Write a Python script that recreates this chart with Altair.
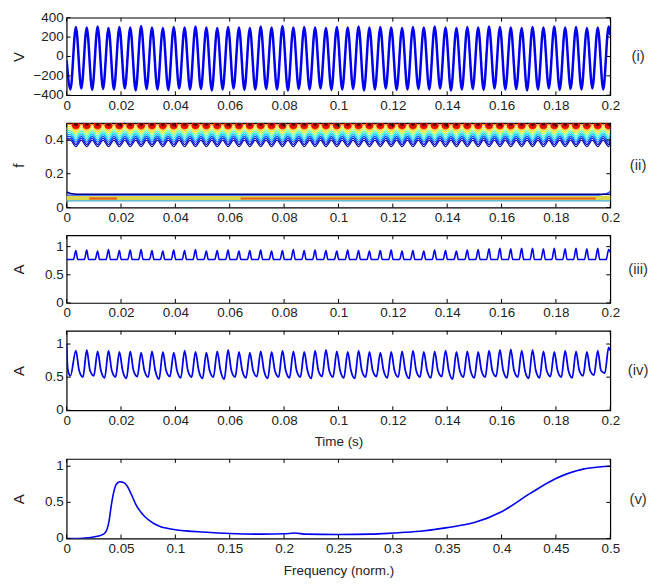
import altair as alt
import pandas as pd

# ---------------- data ----------------
# times of the once-per-cycle events (s), shared by the time panels
cycle_t = [0.0034, 0.0074, 0.0114, 0.0154, 0.0194, 0.0234, 0.0274, 0.0314, 0.0354, 0.0394,
           0.0434, 0.0474, 0.0514, 0.0554, 0.0594, 0.0634, 0.0674, 0.0714, 0.0754, 0.0794,
           0.0834, 0.0874, 0.0914, 0.0954, 0.0994, 0.1034, 0.1074, 0.1114, 0.1154, 0.1194,
           0.1234, 0.1274, 0.1314, 0.1354, 0.1394, 0.1434, 0.1474, 0.1514, 0.1554, 0.1594,
           0.1634, 0.1674, 0.1714, 0.1754, 0.1794, 0.1834, 0.1874, 0.1914, 0.1954, 0.1994]
half_period = 0.002

# (i) voltage
v_start = -40
v_end = 220
v_peak = [305, 300, 310, 295, 305, 300, 315, 300, 295, 305,
          300, 310, 300, 295, 305, 300, 295, 310, 300, 315,
          300, 305, 300, 295, 305, 300, 310, 300, 305, 300,
          295, 305, 300, 310, 300, 295, 305, 300, 310, 305,
          300, 295, 305, 300, 310, 300, 305, 295, 300, 310]
v_trough = [-340, -330, -345, -335, -340, -330, -350, -335, -340, -345,
            -330, -340, -335, -350, -340, -330, -345, -340, -335, -340,
            -350, -335, -340, -330, -345, -340, -335, -350, -340, -330,
            -345, -340, -335, -340, -330, -350, -340, -335, -345, -330,
            -340, -335, -350, -340, -330, -345, -335, -340, -330, -340]

# (ii) time-frequency contour levels
contour_crest = [0.398, 0.41, 0.421, 0.432, 0.443, 0.454, 0.466, 0.478, 0.492]
contour_dip = [0.360, 0.373, 0.386, 0.398, 0.41, 0.422, 0.434, 0.446, 0.458]
blob_red_f = 0.487
blob_dark_f = 0.495
low_navy_t = [0.0, 0.0015, 0.004, 0.2]
low_navy_f = [0.092, 0.083, 0.079, 0.079]
low_blue_t = [0.0, 0.194, 0.197, 0.199, 0.2]
low_blue_f = [0.073, 0.073, 0.077, 0.085, 0.095]
low_cyan_t = [0.0, 0.2]
low_cyan_f = [0.039, 0.039]
band_t = [0.0]
band_t2 = [0.2]
band_lo = [0.040]
band_hi = [0.070]
orange_t = [0.0083, 0.064]
orange_t2 = [0.0185, 0.1946]
orange_lo = [0.047, 0.047]
orange_hi = [0.060, 0.060]

# (iii) amplitude
iii_base = 0.77
iii_end = 0.9
iii_peak = [0.93, 0.94, 0.92, 0.95, 0.93, 0.94, 0.95, 0.93, 0.92, 0.94,
            0.93, 0.95, 0.92, 0.93, 0.94, 0.92, 0.93, 0.94, 0.92, 0.93,
            0.95, 0.93, 0.94, 0.93, 0.92, 0.94, 0.93, 0.92, 0.93, 0.94,
            0.92, 0.93, 0.92, 0.94, 0.93, 0.92, 0.94, 0.95, 0.96, 0.97,
            0.96, 0.97, 0.97, 0.96, 0.97, 0.96, 0.97, 0.96, 0.97, 0.95]

# (iv) amplitude
iv_start_t = [0.0, 0.0004, 0.0014]
iv_start_v = [1.0, 0.62, 0.52]
iv_shoulder = 0.6
iv_end = 0.9
iv_peak = [0.90, 0.91, 0.89, 0.90, 0.88, 0.89, 0.87, 0.89, 0.88, 0.87,
           0.90, 0.88, 0.87, 0.89, 0.91, 0.88, 0.87, 0.89, 0.88, 0.90,
           0.89, 0.88, 0.90, 0.91, 0.89, 0.88, 0.90, 0.88, 0.87, 0.88,
           0.89, 0.90, 0.88, 0.89, 0.90, 0.88, 0.89, 0.88, 0.90, 0.91,
           0.92, 0.90, 0.91, 0.89, 0.88, 0.90, 0.89, 0.88, 0.90, 0.95]
iv_trough = [0.50, 0.52, 0.49, 0.50, 0.48, 0.51, 0.50, 0.47, 0.51, 0.49,
             0.50, 0.48, 0.50, 0.47, 0.50, 0.49, 0.51, 0.48, 0.50, 0.49,
             0.50, 0.48, 0.51, 0.50, 0.49, 0.48, 0.50, 0.51, 0.49, 0.50,
             0.48, 0.50, 0.49, 0.51, 0.47, 0.50, 0.49, 0.50, 0.51, 0.49,
             0.50, 0.48, 0.49, 0.51, 0.50, 0.49, 0.52, 0.53, 0.56]

# (v) spectrum
freq = [0, 0.01, 0.02, 0.028, 0.034, 0.037, 0.039, 0.041, 0.043, 0.045,
        0.047, 0.049, 0.051, 0.053, 0.055, 0.058, 0.061, 0.064, 0.068, 0.072,
        0.077, 0.081, 0.087, 0.093, 0.1, 0.11, 0.125, 0.15, 0.18, 0.2,
        0.21, 0.22, 0.25, 0.28, 0.3, 0.325, 0.35, 0.375, 0.4, 0.426,
        0.45, 0.475, 0.49, 0.5]
spec = [0.0, 0.0, 0.01, 0.03, 0.06, 0.12, 0.24, 0.45, 0.62, 0.73,
        0.77, 0.785, 0.78, 0.77, 0.74, 0.66, 0.56, 0.46, 0.37, 0.30,
        0.24, 0.20, 0.16, 0.14, 0.12, 0.105, 0.09, 0.07, 0.06, 0.065,
        0.075, 0.06, 0.055, 0.06, 0.075, 0.10, 0.15, 0.22, 0.37, 0.62,
        0.83, 0.96, 0.99, 1.0]

# axis ticks / labels
time_ticks = [0, 0.02, 0.04, 0.06, 0.08, 0.1, 0.12, 0.14, 0.16, 0.18, 0.2]
freq_ticks = [0, 0.05, 0.1, 0.15, 0.2, 0.25, 0.3, 0.35, 0.4, 0.45, 0.5]
v_ticks = [-400, -200, 0, 200, 400]
v_labels = ["\u2212400", "\u2212200", "0", "200", "400"]
f_ticks = [0, 0.2, 0.4]
f_labels = ["0", "0.2", "0.4"]
a_ticks = [0, 0.5, 1]
a_labels = ["0", "0.5", "1"]

# ---------------- styling ----------------
W = 547
FONT = "Liberation Sans"
FS = 13.5
BLUE = "#0000EE"
LABEL_EXPR = "format(datum.value, '~g')"
contour_colors = ["#00008F", "#0000FF", "#0050FF", "#00A0FF", "#00E0FF",
                  "#50FFAF", "#AFFF50", "#FFE000", "#FF9000"]


def make_panel(layers, h, xfield, xdom, xticks, ydom, yticks, ylabels, ytitle, tag,
               xtitle=None, xtitle_pad=10):
    xs = alt.Scale(domain=xdom, nice=False, zero=False)
    ys = alt.Scale(domain=ydom, nice=False, zero=False)
    xkw = dict(values=xticks, labelExpr=LABEL_EXPR, labelFlush=False, labelOverlap=False)
    if xtitle:
        xkw.update(title=xtitle, titlePadding=xtitle_pad)
    else:
        xkw.update(title=None)
    yaxis = alt.Axis(values=yticks, labels=False, title=ytitle, titleX=-48, titleY=h / 2,
                     titleBaseline="middle", titleAlign="center", titleFontSize=15)
    carrier = alt.Chart(pd.DataFrame({xfield: xdom, "val": ydom})).mark_line(
        strokeOpacity=0).encode(
        x=alt.X(f"{xfield}:Q", scale=xs, axis=alt.Axis(**xkw)),
        y=alt.Y("val:Q", scale=ys, axis=yaxis),
    )
    xt = pd.DataFrame({xfield: xticks})
    yt = pd.DataFrame({"val": yticks, "lab": ylabels})
    rk = dict(color="black", strokeWidth=1)
    tk = [
        alt.Chart(xt).mark_rule(**rk).encode(x=f"{xfield}:Q", y=alt.value(h), y2=alt.value(h - 4)),
        alt.Chart(xt).mark_rule(**rk).encode(x=f"{xfield}:Q", y=alt.value(0), y2=alt.value(4)),
        alt.Chart(yt).mark_rule(**rk).encode(y="val:Q", x=alt.value(0), x2=alt.value(4)),
        alt.Chart(yt).mark_rule(**rk).encode(y="val:Q", x=alt.value(W - 4), x2=alt.value(W)),
        alt.Chart(yt).mark_text(font=FONT, fontSize=FS, color="#222", align="right",
                                baseline="middle").encode(
            y="val:Q", x=alt.value(-3), text="lab:N"),
    ]
    lab = alt.Chart(pd.DataFrame({"lab": [tag]})).mark_text(
        font=FONT, fontSize=15, color="#333", align="center", baseline="middle"
    ).encode(x=alt.value(W + 28), y=alt.value(h / 2), text="lab:N")
    return alt.layer(carrier, *layers, *tk, lab).properties(width=W, height=h)


# ---------- panel (i) ----------
t1, y1 = [0.0], [v_start]
for k, tc in enumerate(cycle_t):
    t1 += [tc - half_period, tc]
    y1 += [v_trough[k], v_peak[k]]
t1.append(0.2)
y1.append(v_end)
df1 = pd.DataFrame({"t": t1, "val": y1})
line1 = alt.Chart(df1).mark_line(color=BLUE, strokeWidth=2.5, interpolate="monotone", clip=True).encode(
    x="t:Q", y="val:Q")
p1 = make_panel([line1], 78, "t", [0, 0.2], time_ticks, [-400, 400], v_ticks, v_labels, "V", "(i)")

# ---------- panel (ii) ----------
rows = []
for j, (cr, dp) in enumerate(zip(contour_crest, contour_dip)):
    rows.append((0.0, cr, j))
    for tc in cycle_t:
        rows.append((tc - half_period, cr, j))
        rows.append((tc, dp, j))
    rows.append((0.2, cr, j))
dfc = pd.DataFrame(rows, columns=["t", "val", "lev"])
contours = alt.Chart(dfc).mark_line(strokeWidth=1.1, interpolate="monotone", clip=True).encode(
    x="t:Q", y="val:Q",
    color=alt.Color("lev:N", scale=alt.Scale(domain=list(range(len(contour_crest))),
                                             range=contour_colors), legend=None),
)
blob_red = alt.Chart(pd.DataFrame({"t": cycle_t, "val": [blob_red_f] * len(cycle_t)})).mark_point(
    filled=True, shape="circle", size=60, color="#E81000", opacity=1, clip=True).encode(x="t:Q", y="val:Q")
blob_dark = alt.Chart(pd.DataFrame({"t": cycle_t, "val": [blob_dark_f] * len(cycle_t)})).mark_point(
    filled=True, shape="circle", size=18, color="#5A0000", opacity=1, clip=True).encode(x="t:Q", y="val:Q")
band = alt.Chart(pd.DataFrame({"t": band_t, "t2": band_t2, "val": band_lo, "val2": band_hi})).mark_rect(
    color="#DCD64C").encode(x="t:Q", x2="t2", y="val:Q", y2="val2")
orange = alt.Chart(pd.DataFrame({"t": orange_t, "t2": orange_t2,
                                 "val": orange_lo, "val2": orange_hi})).mark_rect(
    color="#E8601C").encode(x="t:Q", x2="t2", y="val:Q", y2="val2")
navy = alt.Chart(pd.DataFrame({"t": low_navy_t, "val": low_navy_f})).mark_line(
    color="#00008F", strokeWidth=1.5, interpolate="monotone", clip=True).encode(x="t:Q", y="val:Q")
blue_l = alt.Chart(pd.DataFrame({"t": low_blue_t, "val": low_blue_f})).mark_line(
    color="#2050FF", strokeWidth=1.3, interpolate="monotone", clip=True).encode(x="t:Q", y="val:Q")
cyan_l = alt.Chart(pd.DataFrame({"t": low_cyan_t, "val": low_cyan_f})).mark_line(
    color="#40B0E0", strokeWidth=1.2, clip=True).encode(x="t:Q", y="val:Q")
p2 = make_panel([band, orange, cyan_l, blue_l, navy, contours, blob_red, blob_dark],
                85, "t", [0, 0.2], time_ticks, [0, 0.5], f_ticks, f_labels, "f", "(ii)")

# ---------- panel (iii) ----------
t3, y3 = [0.0], [iii_base]
for k, tc in enumerate(cycle_t):
    t3 += [tc - 0.0009, tc]
    y3 += [iii_base, iii_peak[k]]
    if k < len(cycle_t) - 1:
        t3.append(tc + 0.0007)
        y3.append(iii_base)
t3.append(0.2)
y3.append(iii_end)
df3 = pd.DataFrame({"t": t3, "val": y3})
line3 = alt.Chart(df3).mark_line(color=BLUE, strokeWidth=1.6, interpolate="monotone", clip=True).encode(
    x="t:Q", y="val:Q")
p3 = make_panel([line3], 68, "t", [0, 0.2], time_ticks, [0, 1.2], a_ticks, a_labels, "A", "(iii)")

# ---------- panel (iv) ----------
t4, y4 = list(iv_start_t), list(iv_start_v)
for k, tc in enumerate(cycle_t):
    t4.append(tc)
    y4.append(iv_peak[k])
    if k < len(iv_trough):
        t4 += [tc + 0.0012, tc + 0.0026]
        y4 += [iv_shoulder, iv_trough[k]]
t4.append(0.2)
y4.append(iv_end)
df4 = pd.DataFrame({"t": t4, "val": y4})
line4 = alt.Chart(df4).mark_line(color=BLUE, strokeWidth=1.8, interpolate="monotone", clip=True).encode(
    x="t:Q", y="val:Q")
p4 = make_panel([line4], 80, "t", [0, 0.2], time_ticks, [0, 1.2], a_ticks, a_labels, "A", "(iv)",
                xtitle="Time (s)", xtitle_pad=8)

# ---------- panel (v) ----------
df5 = pd.DataFrame({"fq": freq, "val": spec})
line5 = alt.Chart(df5).mark_line(color=BLUE, strokeWidth=1.6, interpolate="monotone", clip=True).encode(
    x="fq:Q", y="val:Q")
p5 = make_panel([line5], 80, "fq", [0, 0.5], freq_ticks, [0, 1.1], a_ticks, a_labels, "A", "(v)",
                xtitle="Frequency (norm.)", xtitle_pad=9)

chart = alt.vconcat(p1, p2, p3, p4, p5, spacing=8).properties(
    padding={"left": 3, "top": 0, "right": 5, "bottom": 0}
).configure_view(
    stroke="black", strokeWidth=1.2
).configure_axis(
    labelFont=FONT, labelFontSize=FS, labelColor="#222", titleFont=FONT, titleFontSize=13.5,
    titleFontWeight="normal", titleColor="#222", ticks=False, domain=False, grid=False,
    labelPadding=3
)

chart.save("out.html", embed_options={"renderer": "svg", "actions": False})
